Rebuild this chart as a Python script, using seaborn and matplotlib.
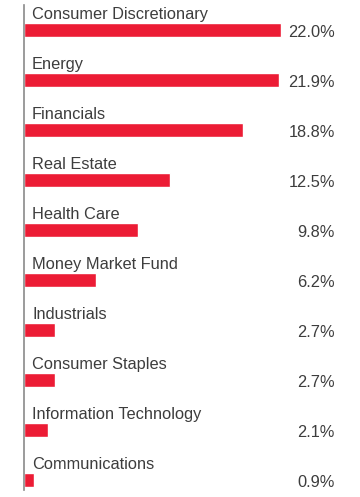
import matplotlib
matplotlib.use("Agg")
import matplotlib.pyplot as plt
import seaborn as sns
import pandas as pd

categories = ["Consumer Discretionary", "Energy", "Financials", "Real Estate",
              "Health Care", "Money Market Fund", "Industrials", "Consumer Staples",
              "Information Technology", "Communications"]
values = [22.0, 21.9, 18.8, 12.5, 9.8, 6.2, 2.7, 2.7, 2.1, 0.9]
labels = ["22.0%", "21.9%", "18.8%", "12.5%", "9.8%", "6.2%", "2.7%", "2.7%", "2.1%", "0.9%"]

sns.set_style("white")
plt.rcParams['font.family'] = ['Liberation Sans', 'DejaVu Sans']

W, H = 360, 497
fig = plt.figure(figsize=(W / 100, H / 100), dpi=100)
left_px, right_px, top_px, bot_px = 24, 335, 5, 490
ax = fig.add_axes([left_px / W, 1 - bot_px / H, (right_px - left_px) / W, (bot_px - top_px) / H])

df = pd.DataFrame({"cat": categories, "val": values})
sns.barplot(data=df, x="val", y="cat", orient="h", color="#EC1C35", width=0.28,
            saturation=1, ax=ax)

ax.set_xlim(0, (right_px - left_px) / 11.66)
ax.set_ylim(9.2, -0.5)
ax.set_xlabel("")
ax.set_ylabel("")
ax.set_xticks([])
ax.set_yticks([])
for s in ["top", "right", "bottom"]:
    ax.spines[s].set_visible(False)
ax.spines["left"].set_color("#8a8a8a")
ax.spines["left"].set_linewidth(1.2)

txt_color = "#3d3d3d"
text_x = 8 / (right_px - left_px)
for i, (c, lab) in enumerate(zip(categories, labels)):
    ax.text(text_x, i - 0.22, c, transform=ax.get_yaxis_transform(),
            ha="left", va="baseline", fontsize=11.8, color=txt_color)
    ax.text(1.0, i + 0.14, lab, transform=ax.get_yaxis_transform(),
            ha="right", va="baseline", fontsize=11.8, color=txt_color)

fig.savefig("out.png", dpi=100)
